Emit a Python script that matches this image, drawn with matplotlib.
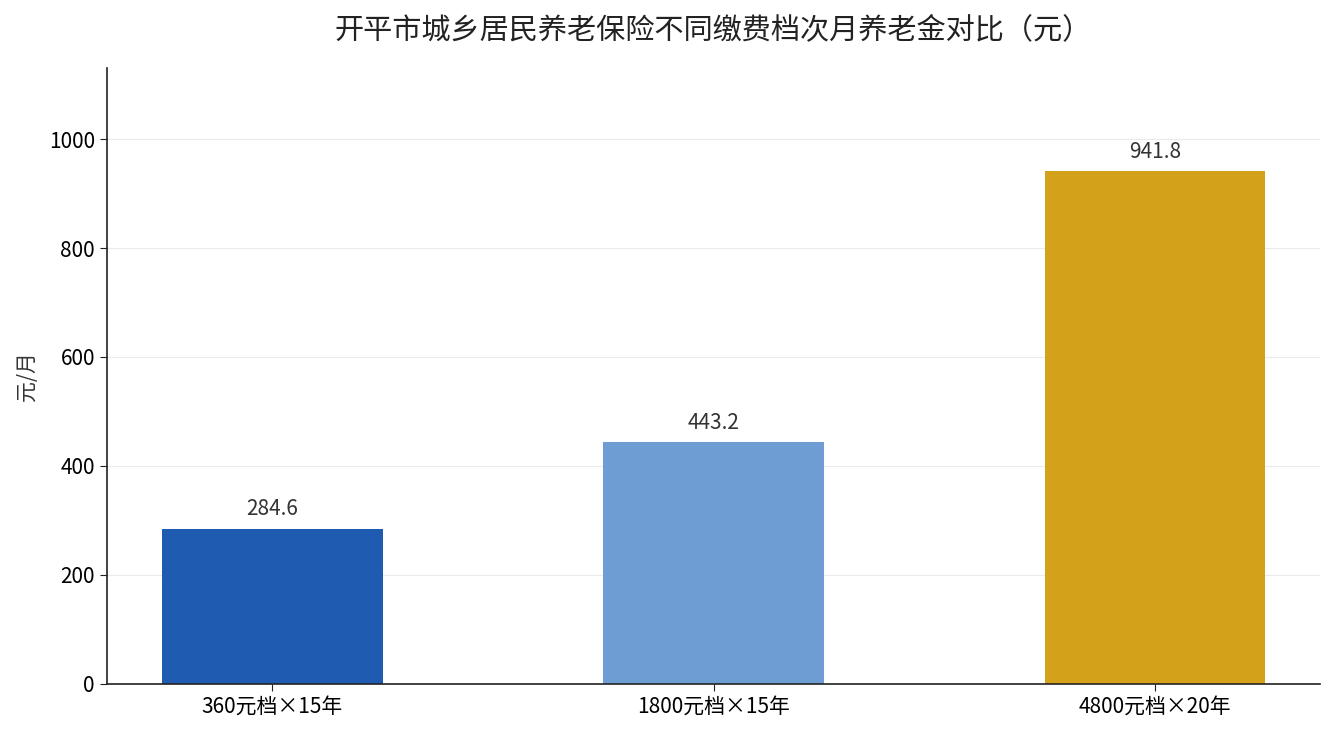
import matplotlib.pyplot as plt

plt.rcParams['font.family'] = ['Noto Sans CJK SC', 'DejaVu Sans']

categories = ['360元档×15年', '1800元档×15年', '4800元档×20年']
pension = [284.6, 443.2, 941.8]
colors = ['#1f5bb0', '#6d9dd3', '#d4a11b']

fig, ax = plt.subplots(figsize=(13.35, 7.35), dpi=100)
bars = ax.bar(categories, pension, width=0.5, color=colors, zorder=2)

for b, v in zip(bars, pension):
    ax.text(b.get_x() + b.get_width() / 2, v + 15, f'{v:.1f}',
            ha='center', va='bottom', fontsize=15, color='#333333')

ax.set_ylim(0, max(pension) * 1.2)
ax.set_ylabel('元/月', fontsize=15, color='#333333', labelpad=8)
ax.set_title('开平市城乡居民养老保险不同缴费档次月养老金对比（元）', fontsize=21, color='#222222', pad=22)
ax.tick_params(labelsize=15, length=5, color='#222222')
ax.grid(axis='y', color='#dddddd', alpha=0.6, linewidth=0.8, zorder=3)
ax.spines['top'].set_visible(False)
ax.spines['right'].set_visible(False)
for s in ('left', 'bottom'):
    ax.spines[s].set_color('#222222')
    ax.spines[s].set_linewidth(1.2)

plt.subplots_adjust(left=0.08, right=0.989, top=0.907, bottom=0.07)
plt.savefig('out.png')
